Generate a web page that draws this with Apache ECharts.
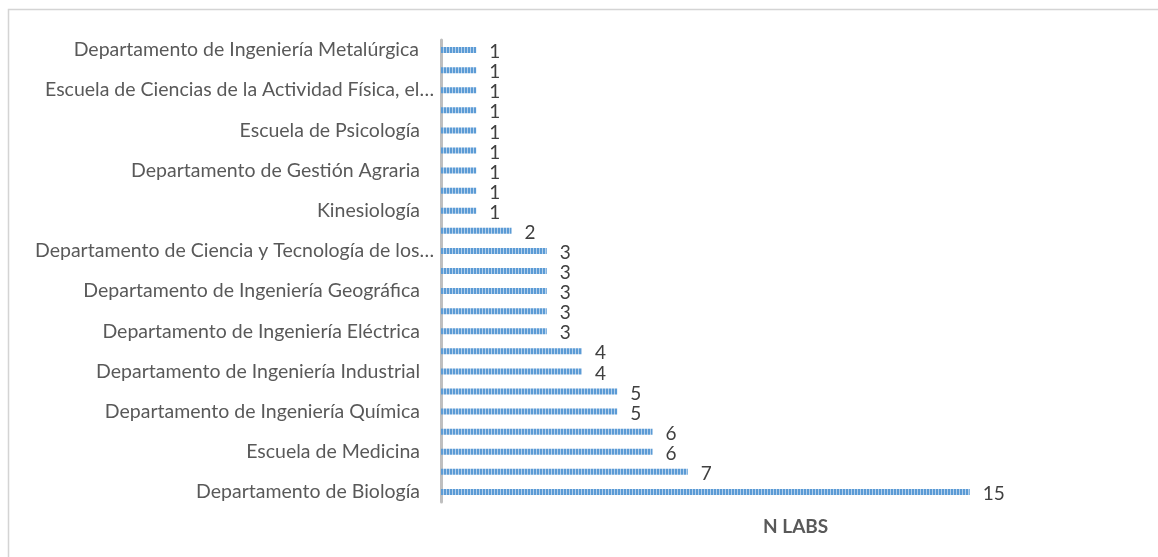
<!DOCTYPE html>
<html>
<head>
<meta charset="utf-8">
<script src="https://cdn.jsdelivr.net/npm/echarts@6/dist/echarts.min.js"></script>
<style>
  html, body { margin: 0; padding: 0; background: #ffffff; }
  #chart { width: 1158px; height: 557px; }
</style>
</head>
<body>
<div id="chart"></div>
<script>
// categories from bottom to top (only every other one is labelled in the chart)
const departamentos = [
  'Departamento de Biología',
  'Departamento de Física',
  'Escuela de Medicina',
  'Departamento de Química de los Materiales',
  'Departamento de Ingeniería Química',
  'Departamento de Ingeniería Mecánica',
  'Departamento de Ingeniería Industrial',
  'Departamento de Ingeniería Informática',
  'Departamento de Ingeniería Eléctrica',
  'Departamento de Ingeniería en Minas',
  'Departamento de Ingeniería Geográfica',
  'Departamento de Matemática y Ciencia de la Computación',
  'Departamento de Ciencia y Tecnología de los…',
  'Departamento de Ingeniería en Obras Civiles',
  'Kinesiología',
  'Escuela de Obstetricia',
  'Departamento de Gestión Agraria',
  'Escuela de Enfermería',
  'Escuela de Psicología',
  'Departamento de Tecnologías Industriales',
  'Escuela de Ciencias de la Actividad Física, el…',
  'Departamento de Ingeniería Biotecnológica',
  'Departamento de Ingeniería Metalúrgica'
]
const nLabs = [15, 7, 6, 6, 5, 5, 4, 4, 3, 3, 3, 3, 3, 2, 1, 1, 1, 1, 1, 1, 1, 1, 1]
const serieNombre = 'N LABS'

// striped fill like the Excel pattern
function stripes () {
  let c = document.createElement('canvas')
  c.width = 3
  c.height = 4
  let ctx = c.getContext('2d')
  ctx.fillStyle = '#5B9BD5'
  ctx.fillRect(0, 0, 3, 4)
  ctx.fillStyle = '#B4D0EC'
  ctx.fillRect(2, 0, 1, 4)
  return c
}

// Excel draws the cut-off names a bit closer to the axis;
// the top label gets pushed right by echarts, a tiny padding keeps it in line
let ultimo = departamentos.length - 1
let categorias = departamentos.map((d, i) => {
  if (d.endsWith('…')) {
    return { value: d, textStyle: { padding: [0, -14, 0, 0] } }
  }
  if (i === ultimo) {
    return { value: d, textStyle: { padding: [0, 1, 0, 0] } }
  }
  return d
})

let chart = echarts.init(document.getElementById('chart'))
let option = {
  backgroundColor: '#ffffff',
  animation: false,
  textStyle: { fontFamily: 'Lato' },
  title: {
    text: serieNombre,
    left: 758,
    top: 512,
    textStyle: { fontFamily: 'Lato', fontSize: 19, fontWeight: 'bold', color: '#595959' }
  },
  graphic: [{
    type: 'rect',
    shape: { x: 8.5, y: 9.5, width: 1200, height: 600 },
    style: { fill: 'none', stroke: '#D4D4D4', lineWidth: 1.5 },
    silent: true
  }],
  grid: { left: 441, right: 153, top: 40, bottom: 55, containLabel: false },
  xAxis: {
    type: 'value',
    min: 0,
    max: 16,
    show: false,
    splitLine: { show: false }
  },
  yAxis: {
    type: 'category',
    data: categorias,
    axisLine: { show: true, lineStyle: { color: '#BFBFBF', width: 3 } },
    axisTick: { show: false },
    axisLabel: {
      interval: 1,
      margin: 21,
      fontFamily: 'Lato',
      fontSize: 19.5,
      color: '#595959'
    }
  },
  series: [{
    name: serieNombre,
    type: 'bar',
    data: nLabs,
    barWidth: 6,
    itemStyle: { color: { image: stripes(), repeat: 'repeat' } },
    label: {
      show: true,
      position: 'right',
      distance: 13,
      offset: [0, 2],
      fontFamily: 'Lato',
      fontSize: 19,
      color: '#404040'
    }
  }]
}
chart.setOption(option)
</script>
</body>
</html>
